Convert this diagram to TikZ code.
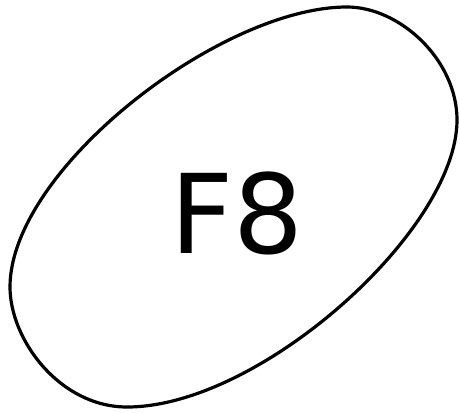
\documentclass[tikz,border=0pt]{standalone}
\usepackage{fontspec}
\setmainfont{DejaVu Sans}
\begin{document}
\begin{tikzpicture}[x=1pt,y=-1pt]
\useasboundingbox (0,0) rectangle (460,412);
\coordinate (top) at (347,7);
\coordinate (right) at (457,120);
\coordinate (bottom) at (127,407);
\coordinate (left) at (10,287);
\draw[line width=3.2pt] (top)
  .. controls (400,7) and (457,60) .. (right)
  .. controls (457,230) and (260,407) .. (bottom)
  .. controls (60,407) and (10,340) .. (left)
  .. controls (10,170) and (220,7) .. (top) -- cycle;
\node[font=\fontsize{110}{110}\selectfont, inner sep=0pt] (f8) at (237,213) {F8};
\end{tikzpicture}
\end{document}
